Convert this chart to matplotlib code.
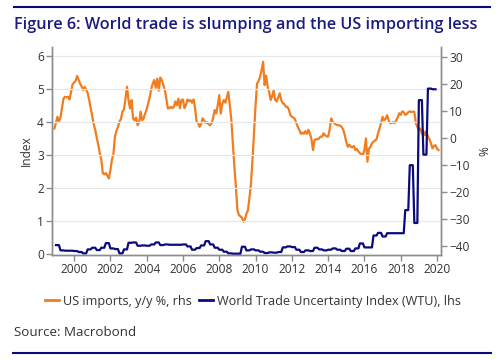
import numpy as np
import matplotlib
matplotlib.use("Agg")
import matplotlib.pyplot as plt
from matplotlib.lines import Line2D

# ---------------- data ----------------
title = "Figure 6: World trade is slumping and the US importing less"
source = "Source: Macrobond"
label_imports = "US imports, y/y %, rhs"
label_wtu = "World Trade Uncertainty Index (WTU), lhs"

# US imports y/y %, monthly, starting Dec 1998
imports_start_year = 1998
imports_start_month = 12
us_imports = [
    3.5,
    5.5, 7.8, 6.0, 7.5, 11.0, 14.5, 15.2, 15.0, 15.2, 14.2, 17.0, 19.8,      # 1999
    20.5, 21.0, 22.9, 21.5, 20.1, 19.0, 17.7, 18.9, 18.0, 16.5, 14.0, 10.9,  # 2000
    8.0, 5.0, 2.9, 0.0, -2.5, -5.7, -8.0, -13.1, -13.5, -13.0, -14.0, -15.0, # 2001
    -12.0, -8.2, -6.0, 0.4, 2.5, 4.0, 6.0, 7.0, 9.7, 10.5, 14.5, 18.9,       # 2002
    14.0, 10.9, 14.0, 7.2, 6.5, 7.5, 4.7, 5.5, 9.7, 6.5, 7.2, 9.0,           # 2003
    10.5, 12.8, 15.0, 18.0, 20.1, 21.4, 18.5, 21.9, 17.5, 22.3, 21.4, 19.5,  # 2004
    17.7, 14.5, 10.9, 11.0, 11.5, 11.0, 11.5, 13.5, 12.0, 14.5, 11.0, 14.0,  # 2005
    14.2, 11.0, 12.1, 14.2, 13.5, 14.0, 13.0, 14.2, 11.0, 6.0, 5.5, 4.1,     # 2006
    5.0, 7.2, 6.5, 5.5, 5.8, 5.0, 4.7, 5.5, 7.5, 10.3, 9.0, 12.0,            # 2007
    15.8, 9.0, 12.5, 14.0, 13.0, 15.0, 17.0, 12.0, 6.6, -2.0, -10.7, -18.0,  # 2008
    -26.7, -28.5, -29.0, -29.5, -31.0, -30.0, -28.0, -26.7, -22.0, -16.8, -8.0, 1.7,  # 2009
    12.0, 20.1, 21.0, 22.6, 25.0, 28.1, 19.5, 23.0, 18.9, 17.0, 14.0, 15.5,  # 2010
    17.5, 14.0, 13.5, 15.0, 16.5, 14.0, 12.8, 12.5, 11.5, 11.5, 10.5, 8.5,   # 2011
    7.8, 7.5, 7.0, 5.5, 4.0, 2.9, 1.5, 2.0, 1.5, 2.5, 1.5, 3.0,              # 2012
    1.5, -0.5, -4.5, -0.8, -0.5, -0.5, -0.2, 0.5, 0.5, 1.7, 1.0, 0.5,        # 2013
    0.5, 3.0, 7.2, 6.0, 5.5, 5.0, 4.7, 4.7, 4.5, 4.0, 3.0, 1.0,              # 2014
    -1.5, -3.3, -2.5, -3.3, -3.5, -3.0, -4.5, -4.0, -5.0, -5.7, -6.0, -6.4,  # 2015
    -4.5, -0.2, -8.8, -4.0, -3.3, -2.0, -1.4, -1.0, -0.5, 1.7, 3.5, 5.5,     # 2016
    7.8, 6.5, 7.0, 8.4, 6.5, 5.4, 5.5, 5.8, 5.4, 6.5, 7.5, 9.1,              # 2017
    8.5, 9.8, 9.5, 8.5, 8.8, 9.5, 9.8, 9.5, 9.7, 9.7, 5.4, 4.0,              # 2018
    2.9, 3.5, 1.5, 2.5, 1.0, 2.5, 0.4, -0.5, -2.0, -3.9, -3.0, -2.7,         # 2019
    -4.0, -4.5,                                                              # 2020
]

# World Trade Uncertainty index, quarterly, starting 1999Q1
wtu_start_year = 1999
wtu = [
    0.26, 0.10, 0.09, 0.09,   # 1999
    0.08, 0.05, 0.01, 0.13,   # 2000
    0.18, 0.11, 0.18, 0.32,   # 2001
    0.16, 0.14, 0.01, 0.13,   # 2002
    0.33, 0.34, 0.24, 0.25,   # 2003
    0.24, 0.28, 0.34, 0.26,   # 2004
    0.28, 0.27, 0.27, 0.27,   # 2005
    0.28, 0.22, 0.12, 0.17,   # 2006
    0.25, 0.38, 0.28, 0.18,   # 2007
    0.12, 0.06, 0.01, 0.00,   # 2008
    0.00, 0.21, 0.10, 0.13,   # 2009
    0.10, 0.06, 0.02, 0.04,   # 2010
    0.03, 0.05, 0.19, 0.22,   # 2011
    0.20, 0.12, 0.05, 0.10,   # 2012
    0.08, 0.18, 0.13, 0.10,   # 2013
    0.12, 0.16, 0.12, 0.08,   # 2014
    0.15, 0.08, 0.16, 0.31,   # 2015
    0.19, 0.19, 0.55, 0.63,   # 2016
    0.52, 0.62, 0.62, 0.62,   # 2017
    0.62, 1.32, 2.68, 0.93,   # 2018
    4.65, 3.00, 5.00, 4.98,   # 2019
]

left_ticks = [0, 1, 2, 3, 4, 5, 6]
right_ticks = [-40, -30, -20, -10, 0, 10, 20, 30]
x_ticks = [2000, 2002, 2004, 2006, 2008, 2010, 2012, 2014, 2016, 2018, 2020]

# ---------------- style ----------------
ORANGE = "#F07D1E"
NAVY = "#0B0B7E"
TITLE_C = "#1B1B80"
TXT = "#333333"
SPINE = "#8C8C8C"
GRID = "#E8E8E8"
FONT = "Open Sans"

plt.rcParams["font.family"] = [FONT, "DejaVu Sans"]

fig = plt.figure(figsize=(5.04, 3.6), dpi=100)
ax = fig.add_axes([52.3 / 504, 1 - 255 / 360, (441 - 52.3) / 504, (255 - 47) / 360])
ax2 = ax.twinx()

# x coordinates
xi = np.arange(len(us_imports))
x_imp = imports_start_year + (imports_start_month - 1) / 12 + xi / 12

# quarterly values held over the three months of each quarter (monthly frequency)
q_start = wtu_start_year + np.arange(len(wtu)) * 0.25
x_wtu = np.column_stack([q_start, q_start + 2 / 12]).ravel()
y_wtu = np.repeat(wtu, 2)

ax.set_zorder(ax2.get_zorder() + 1)
ax.patch.set_visible(False)

ax2.plot(x_imp, us_imports, color=ORANGE, lw=1.6, solid_joinstyle="round")
ax.plot(x_wtu, y_wtu, color=NAVY, lw=1.6, solid_joinstyle="round")

ax.set_xlim(1998.8, 2020.22)
ax.set_ylim(-0.04, 6.26)
ax2.set_ylim(-43.3, 33.6)

ax.set_yticks(left_ticks)
ax2.set_yticks(right_ticks)
ax.set_xticks(x_ticks)
ax.set_xticklabels([str(t) for t in x_ticks])

for a in (ax, ax2):
    for s in a.spines.values():
        s.set_color(SPINE)
        s.set_linewidth(1.0)
    a.spines["top"].set_visible(False)
    a.tick_params(colors=SPINE, labelcolor=TXT, labelsize=8.6, length=4, width=1.0, pad=2)

ax2.yaxis.grid(False)
ax.xaxis.grid(False)
ax.yaxis.grid(True, color=GRID, lw=0.9)
ax.set_axisbelow(True)

ax.set_ylabel("Index", color=TXT, fontsize=8.6, labelpad=3)
ax2.set_ylabel("%", color=TXT, fontsize=8.6, labelpad=6, rotation=90)

# title fit to width
tt = fig.text(14 / 504, 1 - 25 / 360, title, color=TITLE_C, fontsize=12, fontweight="semibold",
              ha="left", va="center")
fig.canvas.draw()
w = tt.get_window_extent().width
tt.set_fontsize(12 * 464 / w)

# rules
fig.add_artist(Line2D([14 / 504, 490 / 504], [1 - 6.7 / 360] * 2, color=NAVY, lw=1.5))
fig.add_artist(Line2D([13 / 504, 491 / 504], [1 - 352.7 / 360] * 2, color=NAVY, lw=1.5))

# legend
handles = [Line2D([], [], color=ORANGE, lw=2), Line2D([], [], color=NAVY, lw=2)]
fig.legend(handles, [label_imports, label_wtu], loc="center", ncol=2,
           bbox_to_anchor=(253 / 504, 1 - 301 / 360), frameon=False, fontsize=9.1,
           handlelength=1.1, handletextpad=0.35, columnspacing=0.5, labelcolor=TXT)

fig.text(14.5 / 504, 1 - 332 / 360, source, color=TXT, fontsize=9.6, ha="left", va="center")

fig.savefig("out.png", dpi=100, facecolor="white")
